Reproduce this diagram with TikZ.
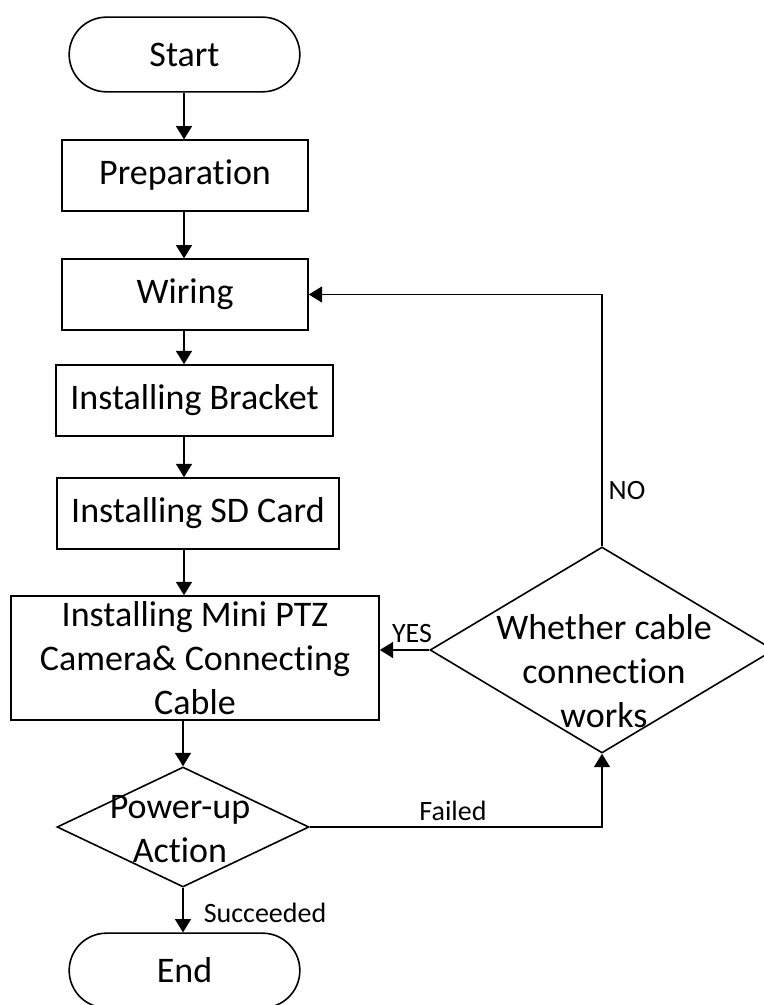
\documentclass[tikz,border=0pt]{standalone}
\usepackage{fontspec}
\setmainfont{Carlito}[Ligatures=NoCommon]
\usetikzlibrary{shapes.geometric,arrows.meta}

\begin{document}
\begin{tikzpicture}[
		x=0.75pt, y=-0.75pt,
		font=\fontsize{27}{33}\selectfont,
		% Style for Start / End
		term/.style={draw, line width=1.2pt, rounded corners=28pt,
			minimum width=173pt, minimum height=56pt, inner sep=0pt},
		% Style for the step boxes
		proc/.style={draw, line width=1.2pt, inner sep=0pt, align=center},
		% Style for the decisions
		decision/.style={diamond, draw, line width=1.2pt, inner sep=0pt},
		% Style for the text inside the decisions
		dtext/.style={align=center, inner sep=0pt},
		% Style for the arrows
		flow/.style={-{Triangle[length=10pt,width=12pt]}, line width=1.2pt},
		% Style for the small labels on the arrows
		lbl/.style={font=\fontsize{21}{25}\selectfont, inner sep=0pt}
	]
	\useasboundingbox (0,0) rectangle (763,1005);
	\coordinate (axis) at (184,0);
	
	% ================= Main column =================
	\node[term] (start) at (184.5,54.5) {Start};
	\node[proc, minimum width=184.5pt, minimum height=53pt] (prep) at (185,175.5) {Preparation};
	\node[proc, minimum width=184.5pt, minimum height=53pt] (wiring) at (185,294.5) {Wiring};
	\node[proc, minimum width=207.75pt, minimum height=53.25pt] (bracket) at (194.5,400.5) {Installing Bracket};
	\node[proc, minimum width=211.5pt, minimum height=53.25pt] (sdcard) at (198,513.5) {Installing SD Card};
	\node[proc, minimum width=276pt, minimum height=93pt] (ptz) at (195,658)
		{Installing Mini PTZ\\Camera\& Connecting\\Cable};
	
	% Power-up decision
	\node[decision, minimum width=189pt, minimum height=90pt] (power) at (183,827) {};
	\node[dtext] (powertxt) at (180,829) {Power-up\\Action};
	
	\node[term] (end) at (184.5,970.5) {End};
	
	% ================= Check decision on the right =================
	\node[decision, minimum width=258pt, minimum height=154.5pt] (whether) at (602,650) {};
	\node[dtext] (whethertxt) at (604,671) {Whether cable\\connection\\works};
	
	% ================= Arrows down the column =================
	\draw[flow] (axis |- start.south) -- (axis |- prep.north);
	\draw[flow] (axis |- prep.south) -- (axis |- wiring.north);
	\draw[flow] (axis |- wiring.south) -- (axis |- bracket.north);
	\draw[flow] (axis |- bracket.south) -- (axis |- sdcard.north);
	\draw[flow] (axis |- sdcard.south) -- (axis |- ptz.north);
	\draw[flow] (power.north |- ptz.south) -- (power.north);
	\draw[flow] (power.south) -- (power.south |- end.north);
	
	% ================= Loop arrows =================
	\draw[flow] (power.east) -| (whether.south);
	\draw[flow] (whether.west) -- (whether.west -| ptz.east);
	\draw[flow] (whether.north) |- (wiring.east);
	
	% Labels
	\node[lbl] (failed) at (453,811) {Failed};
	\node[lbl] (succ) at (265,913) {Succeeded};
	\node[lbl] (yes) at (412,634) {YES};
	\node[lbl] (no) at (627,491) {NO};
	
\end{tikzpicture}
\end{document}
